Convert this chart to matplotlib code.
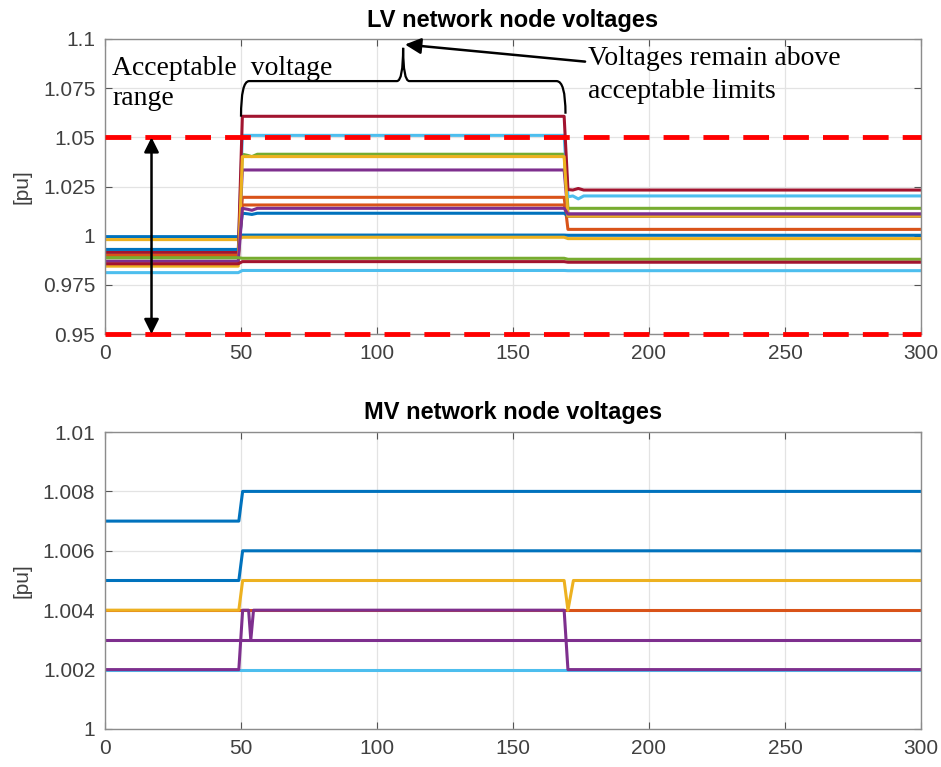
import matplotlib
matplotlib.use("Agg")
import matplotlib.pyplot as plt
from matplotlib.path import Path
from matplotlib.patches import PathPatch

# MATLAB default colour order
BLUE, ORANGE, YELLOW, PURPLE = "#0072BD", "#D95319", "#EDB120", "#7E2F8E"
GREEN, LBLUE, DRED = "#77AC30", "#4DBEEE", "#A2142F"

# ---- LV network: levels before t=50, during 50-170, after 170 ----
LV_COLORS = [BLUE, ORANGE, YELLOW, PURPLE, GREEN, LBLUE, DRED,
             BLUE, ORANGE, YELLOW, PURPLE, GREEN, LBLUE, DRED]
LV_PRE = [0.9995, 0.9900, 0.9980, 0.9900, 0.9888, 0.9915, 0.9915,
          0.9930, 0.9900, 0.9845, 0.9870, 0.9888, 0.9812, 0.9857]
LV_MID = [1.0003, 1.0195, 0.9992, 1.0334, 1.0414, 1.0510, 1.0607,
          1.0114, 1.0156, 1.0402, 1.0139, 0.9885, 0.9823, 0.9868]
LV_POST = [1.0002, 1.0032, 0.9985, 1.0110, 1.0139, 1.0202, 1.0232,
           1.0100, 1.0100, 1.0100, 1.0110, 0.9880, 0.9822, 0.9865]
# small transients just after the switching instants
LV_DIP = [0, 0, 0, 0, -0.0012, 0, 0, -0.0006, 0, 0, -0.0010, 0, 0, 0]
LV_BUMP = [0, 0, 0, 0, 0, -0.0015, 0.0008, 0, 0, 0, 0, 0, 0, 0]
T_LV = [0, 49, 50.5, 52.5, 54, 56, 168.8, 170.2, 172, 174, 176, 300]

# ---- MV network: keyframe times and values ----
T_MV = [0, 49.2, 50.6, 52.8, 53.6, 54.6, 168.8, 170.2, 172.2, 300]
MV_COLORS = [BLUE, BLUE, ORANGE, YELLOW, LBLUE, PURPLE, PURPLE]
MV_VALUES = [
    [1.007, 1.007, 1.008, 1.008, 1.008, 1.008, 1.008, 1.008, 1.008, 1.008],
    [1.005, 1.005, 1.006, 1.006, 1.006, 1.006, 1.006, 1.006, 1.006, 1.006],
    [1.004, 1.004, 1.004, 1.004, 1.004, 1.004, 1.004, 1.004, 1.004, 1.004],
    [1.004, 1.004, 1.005, 1.005, 1.005, 1.005, 1.005, 1.004, 1.005, 1.005],
    [1.002, 1.002, 1.002, 1.002, 1.002, 1.002, 1.002, 1.002, 1.002, 1.002],
    [1.003, 1.003, 1.003, 1.003, 1.003, 1.003, 1.003, 1.003, 1.003, 1.003],
    [1.002, 1.002, 1.004, 1.004, 1.003, 1.004, 1.004, 1.002, 1.002, 1.002],
]

LIMITS = [0.95, 1.05]
X_TICKS = [0, 50, 100, 150, 200, 250, 300]
LV_YTICKS = [0.95, 0.975, 1.0, 1.025, 1.05, 1.075, 1.1]
LV_YLABELS = ["0.95", "0.975", "1", "1.025", "1.05", "1.075", "1.1"]
MV_YTICKS = [1.0, 1.002, 1.004, 1.006, 1.008, 1.01]
MV_YLABELS = ["1", "1.002", "1.004", "1.006", "1.008", "1.01"]

SANS = ["Liberation Sans", "DejaVu Sans"]
SERIF = ["Liberation Serif", "DejaVu Serif"]
TXT = "#404040"


def style(ax, yticks, ylabels, ylim, title):
    ax.set_xlim(0, 300)
    ax.set_ylim(*ylim)
    ax.set_xticks(X_TICKS)
    ax.set_xticklabels([str(x) for x in X_TICKS], family=SANS, fontsize=15, color=TXT)
    ax.set_yticks(yticks)
    ax.set_yticklabels(ylabels, family=SANS, fontsize=15, color=TXT)
    ax.tick_params(direction="in", length=5, width=0.8, color="#555555",
                   top=True, right=True, pad=7)
    ax.grid(True, color="#E3E3E3", lw=0.9)
    ax.set_axisbelow(True)
    for s in ax.spines.values():
        s.set_color("#8C8C8C")
        s.set_linewidth(1.0)
    ax.set_ylabel("[pu]", family=SANS, fontsize=15, color=TXT, labelpad=8)
    ax.set_title(title, family=SANS, fontsize=17, fontweight="bold", pad=9)


fig = plt.figure(figsize=(9.41, 7.67), dpi=100)
ax1 = fig.add_axes([105 / 941, 1 - 334 / 767, 816 / 941, 295 / 767])
ax2 = fig.add_axes([105 / 941, 1 - 729 / 767, 816 / 941, 297 / 767])

# ---------------- LV ----------------
for c, pre, mid, post, dip, bump in zip(LV_COLORS, LV_PRE, LV_MID, LV_POST, LV_DIP, LV_BUMP):
    vals = [pre, pre, mid, mid + dip * 0.5, mid + dip, mid, mid,
            post + bump * 0.3, post, post + bump, post, post]
    ax1.plot(T_LV, vals, color=c, lw=2.2, solid_joinstyle="round")

for lim in LIMITS:
    ax1.plot([0, 300], [lim, lim], color="#FF0000", lw=3.5,
             linestyle=(0, (5.3, 2.9)), clip_on=False, zorder=5)

style(ax1, LV_YTICKS, LV_YLABELS, (0.95, 1.1), "LV network node voltages")

# double arrow for acceptable range
ax1.annotate("", xy=(17.1, 0.95), xytext=(17.1, 1.05),
             arrowprops=dict(arrowstyle="<|-|>", color="black", lw=1.8,
                             mutation_scale=22, shrinkA=0, shrinkB=0), zorder=6)
ax1.text(2.6, 1.0817, "Acceptable  voltage", family=SERIF, fontsize=20,
         va="baseline", ha="left", zorder=6)
ax1.text(2.6, 1.0664, "range", family=SERIF, fontsize=20,
         va="baseline", ha="left", zorder=6)

# curly brace over 50..170
yb, ytip = 1.0786, 1.0955
verts = [(50.0, 1.0605), (50.0, yb), (53.0, yb),
         (107.3, yb),
         (109.6, yb), (109.6, ytip),
         (109.6, yb), (111.9, yb),
         (166.0, yb),
         (169.3, yb), (169.3, 1.062)]
codes = [Path.MOVETO, Path.CURVE3, Path.CURVE3, Path.LINETO,
         Path.CURVE3, Path.CURVE3, Path.CURVE3, Path.CURVE3,
         Path.LINETO, Path.CURVE3, Path.CURVE3]
ax1.add_patch(PathPatch(Path(verts, codes), fill=False, color="black", lw=1.6, zorder=6))

ax1.annotate("", xy=(110.3, 1.0972), xytext=(176.5, 1.0885),
             arrowprops=dict(arrowstyle="-|>", color="black", lw=1.8,
                             mutation_scale=24, shrinkA=0, shrinkB=0),
             annotation_clip=False, zorder=6)
ax1.text(177.6, 1.0868, "Voltages remain above", family=SERIF,
         fontsize=20, va="baseline", ha="left", zorder=6)
ax1.text(177.6, 1.0700, "acceptable limits", family=SERIF,
         fontsize=20, va="baseline", ha="left", zorder=6)

# ---------------- MV ----------------
for c, vals in zip(MV_COLORS, MV_VALUES):
    ax2.plot(T_MV, vals, color=c, lw=2.2, solid_joinstyle="round")

style(ax2, MV_YTICKS, MV_YLABELS, (1.0, 1.01), "MV network node voltages")

fig.savefig("out.png", dpi=100)
